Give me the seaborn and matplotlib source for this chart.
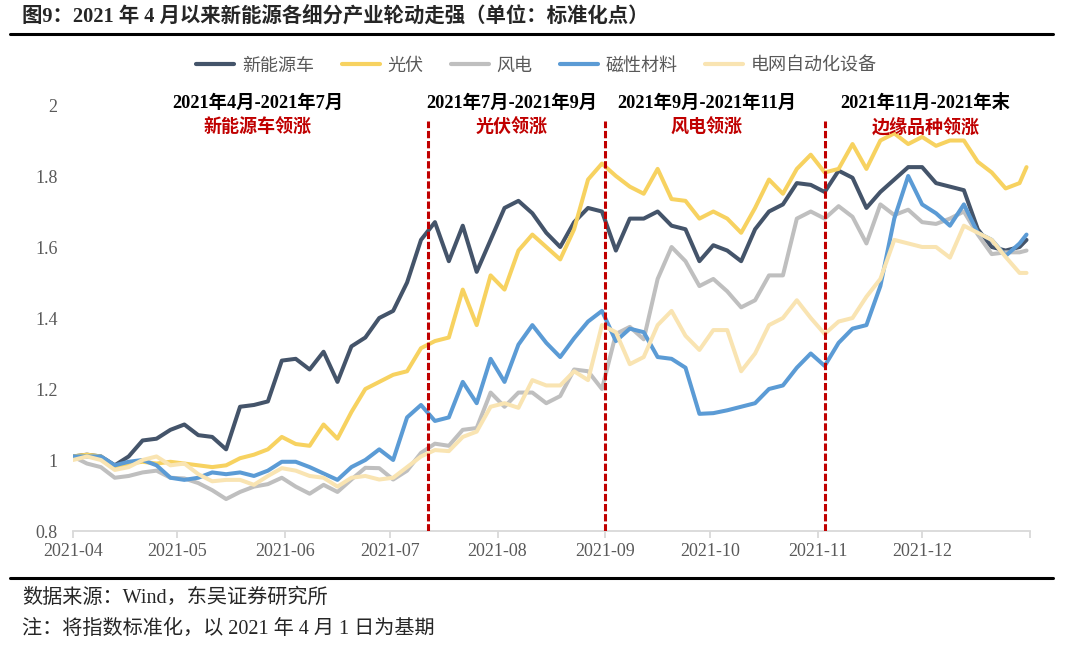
import pandas as pd
import numpy as np
import matplotlib.pyplot as plt
import matplotlib.dates as mdates
import seaborn as sns
from matplotlib.lines import Line2D

# 样式
sns.set_theme(style='white')
plt.rcParams['font.family'] = ['Liberation Serif', 'Noto Sans CJK SC', 'DejaVu Sans']
plt.rcParams['lines.solid_joinstyle'] = 'round'

# 数据：2021-04-01 起每 4 天取一点，外加年末
dates = list(pd.date_range('2021-04-01', '2021-12-29', freq='4D')) + [pd.Timestamp('2021-12-31')]

nev = [1.01, 1.015, 1.01, 0.985, 1.01, 1.055, 1.06, 1.085, 1.10, 1.07,
       1.065, 1.03, 1.15, 1.155, 1.165, 1.28, 1.285, 1.255, 1.305, 1.22,
       1.32, 1.345, 1.40, 1.42, 1.50, 1.62, 1.67, 1.56, 1.66, 1.53,
       1.62, 1.71, 1.73, 1.695, 1.64, 1.60, 1.67, 1.71, 1.70, 1.59,
       1.68, 1.68, 1.70, 1.66, 1.65, 1.56, 1.605, 1.59, 1.56, 1.65,
       1.70, 1.72, 1.78, 1.775, 1.755, 1.815, 1.795, 1.71, 1.755, 1.79,
       1.825, 1.825, 1.78, 1.77, 1.76, 1.65, 1.60, 1.59, 1.60, 1.62]
pv = [1.01, 1.015, 1.01, 0.98, 0.99, 0.995, 0.99, 0.995, 0.99, 0.985,
      0.98, 0.985, 1.005, 1.015, 1.03, 1.065, 1.045, 1.04, 1.10, 1.06,
      1.135, 1.20, 1.22, 1.24, 1.25, 1.315, 1.335, 1.345, 1.48, 1.38,
      1.52, 1.48, 1.59, 1.635, 1.60, 1.565, 1.65, 1.79, 1.835, 1.80,
      1.77, 1.75, 1.82, 1.735, 1.73, 1.68, 1.70, 1.68, 1.64, 1.71,
      1.79, 1.75, 1.82, 1.86, 1.81, 1.82, 1.89, 1.82, 1.90, 1.92,
      1.89, 1.91, 1.885, 1.90, 1.90, 1.84, 1.81, 1.765, 1.78, 1.825]
wind = [1.01, 0.99, 0.98, 0.95, 0.955, 0.965, 0.97, 0.95, 0.948, 0.935,
        0.915, 0.89, 0.91, 0.925, 0.932, 0.95, 0.925, 0.905, 0.93, 0.91,
        0.945, 0.978, 0.977, 0.945, 0.97, 1.02, 1.046, 1.04, 1.085, 1.09,
        1.19, 1.15, 1.19, 1.19, 1.16, 1.18, 1.255, 1.25, 1.20, 1.355,
        1.375, 1.34, 1.51, 1.60, 1.56, 1.49, 1.51, 1.475, 1.43, 1.45,
        1.52, 1.52, 1.68, 1.70, 1.68, 1.715, 1.685, 1.61, 1.72, 1.69,
        1.705, 1.67, 1.665, 1.68, 1.70, 1.635, 1.58, 1.585, 1.585, 1.59]
magnet = [1.01, 1.01, 1.01, 0.985, 0.995, 1.0, 0.985, 0.95, 0.944, 0.95,
          0.965, 0.96, 0.965, 0.955, 0.97, 0.995, 0.995, 0.98, 0.962, 0.944,
          0.98, 1.0, 1.03, 1.0, 1.12, 1.155, 1.11, 1.12, 1.22, 1.16,
          1.285, 1.22, 1.325, 1.38, 1.33, 1.29, 1.343, 1.39, 1.42, 1.335,
          1.37, 1.36, 1.29, 1.285, 1.26, 1.13, 1.132, 1.14, 1.15, 1.16,
          1.20, 1.21, 1.26, 1.30, 1.265, 1.33, 1.37, 1.38, 1.49, 1.68,
          1.80, 1.72, 1.695, 1.66, 1.72, 1.64, 1.62, 1.575, 1.61, 1.635]
grid = [1.0, 1.01, 1.0, 0.972, 0.98, 1.0, 1.01, 0.985, 0.99, 0.96,
        0.94, 0.944, 0.944, 0.93, 0.955, 0.977, 0.97, 0.955, 0.95, 0.925,
        0.95, 0.955, 0.945, 0.95, 0.98, 1.01, 1.028, 1.025, 1.065, 1.08,
        1.15, 1.16, 1.147, 1.225, 1.21, 1.21, 1.25, 1.225, 1.38, 1.36,
        1.27, 1.29, 1.38, 1.42, 1.35, 1.31, 1.366, 1.366, 1.25, 1.30,
        1.38, 1.40, 1.45, 1.40, 1.355, 1.39, 1.40, 1.46, 1.51, 1.62,
        1.61, 1.60, 1.60, 1.57, 1.66, 1.64, 1.62, 1.572, 1.527, 1.527]

series_names = ['新能源车', '光伏', '风电', '磁性材料', '电网自动化设备']
series_colors = ['#44546a', '#f7d260', '#bfbfbf', '#5b9bd5', '#f9e4b2']

y_ticks = [0.8, 1, 1.2, 1.4, 1.6, 1.8, 2]
y_labels = ['0.8', '1', '1.2', '1.4', '1.6', '1.8', '2']
month_labels = ['2021-04', '2021-05', '2021-06', '2021-07', '2021-08',
                '2021-09', '2021-10', '2021-11', '2021-12']

split_dates = ['2021-07-12', '2021-09-01', '2021-11-03']
period_titles = ['2021年4月-2021年7月', '2021年7月-2021年9月', '2021年9月-2021年11月', '2021年11月-2021年末']
period_leaders = ['新能源车领涨', '光伏领涨', '风电领涨', '边缘品种领涨']
period_centers = ['2021-05-24', '2021-08-05', '2021-09-30', '2021-12-02']

df = pd.DataFrame({'date': dates, '新能源车': nev, '光伏': pv, '风电': wind,
                   '磁性材料': magnet, '电网自动化设备': grid})
long_df = df.melt(id_vars='date', var_name='series', value_name='value')

# 画图
fig = plt.figure(figsize=(10.8, 6.45), dpi=100)
ax = fig.add_axes([73/1080, 1-531/645, (1030-73)/1080, (531-105)/645])

sns.lineplot(data=long_df, x='date', y='value', hue='series', hue_order=series_names,
             palette=dict(zip(series_names, series_colors)), linewidth=2.9,
             legend=False, ax=ax)

ax.set_ylim(0.8, 2.0)
ax.set_yticks(y_ticks)
ax.set_yticklabels(y_labels)
ax.set_xlim(mdates.date2num(pd.Timestamp('2021-04-01')), mdates.date2num(pd.Timestamp('2022-01-01')))
month_ticks = pd.date_range('2021-04-01', '2022-01-01', freq='MS')
ax.set_xticks(mdates.date2num(month_ticks))
ax.set_xticklabels(month_labels + [''])
ax.set_xlabel('')
ax.set_ylabel('')

for s in ['top', 'right', 'left']:
    ax.spines[s].set_visible(False)
ax.spines['bottom'].set_color('#d9d9d9')
ax.spines['bottom'].set_linewidth(1.3)
ax.tick_params(axis='x', bottom=True, length=5, width=1.3, color='#d9d9d9', pad=4,
               labelsize=13, labelcolor='#595959')
ax.tick_params(axis='y', left=False, length=0, pad=11, labelsize=13, labelcolor='#595959')

# 分段虚线和注释
ax.vlines(mdates.date2num(pd.to_datetime(split_dates)), 0.8, 1.955, colors='#c00000',
          linestyles=(0, (2.4, 0.9)), linewidth=2.2, zorder=5)
for t, lead, c in zip(period_titles, period_leaders, period_centers):
    xc = mdates.date2num(pd.Timestamp(c))
    ax.text(xc, 2.006, t, ha='center', va='center', fontsize=13.2, fontweight='bold', color='black')
    ax.text(xc, 1.936, lead, ha='center', va='center', fontsize=13, fontweight='bold', color='#c00000')

# 图例
handles = [Line2D([0], [0], color=c, lw=3) for c in series_colors]
fig.legend(handles, series_names, loc='center', bbox_to_anchor=(0.497, 1-66/645), ncol=5,
           frameon=False, fontsize=13, handlelength=2.1, handletextpad=0.45,
           columnspacing=1.5, labelcolor='#595959')

# 标题、横线、脚注
fig.text(22/1080, 1-16/645, '图9：2021 年 4 月以来新能源各细分产业轮动走强（单位：标准化点）',
         fontsize=14.7, fontweight='bold', ha='left', va='center')
fig.add_artist(Line2D([10/1080, 1053/1080], [1-34/645]*2, color='black', lw=2.2))
fig.add_artist(Line2D([10/1080, 1053/1080], [1-578/645]*2, color='black', lw=2.2))
fig.text(22/1080, 1-598/645, '数据来源：Wind，东吴证券研究所', fontsize=14.5, ha='left', va='center')
fig.text(22/1080, 1-629/645, '注：将指数标准化，以 2021 年 4 月 1 日为基期', fontsize=14.5, ha='left', va='center')

fig.savefig('out.png', dpi=100, facecolor='white')
